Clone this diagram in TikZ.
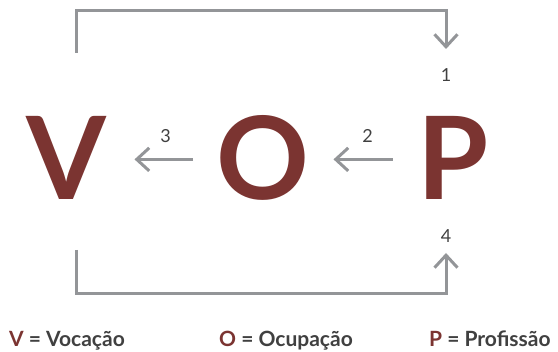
\documentclass[tikz,border=0pt]{standalone}
\usepackage{fontspec}
\setmainfont{Lato}
\usetikzlibrary{arrows.meta}
\definecolor{vred}{HTML}{7B3431}
\definecolor{lgray}{HTML}{939598}
\definecolor{dgray}{HTML}{404040}
\tikzset{
  big/.style={font=\fontsize{115}{115}\selectfont\bfseries, text=vred, inner sep=0pt, anchor=base},
  num/.style={font=\fontsize{18}{18}\selectfont, text=dgray, inner sep=0pt},
  leg/.style={font=\fontsize{21}{21}\selectfont\bfseries, text=dgray, inner sep=0pt, anchor=base west},
  conn/.style={draw=lgray, line width=3pt, -{Straight Barb[length=12.5pt,width=23pt]}}
}
\begin{document}
\begin{tikzpicture}[x=1pt,y=1pt]
\useasboundingbox (0,0) rectangle (558,352);
\node[big] (V) at (66,152) {V};
\node[big] (O) at (263,152) {O};
\node[big] (P) at (453.5,152) {P};
\node[num] (n1) at (446,277) {1};
\node[num] (n2) at (367.6,216) {2};
\node[num] (n3) at (165.5,216) {3};
\node[num] (n4) at (446,116.4) {4};
\coordinate (t0) at (76.5,299);
\coordinate (t1) at (446,303);
\coordinate (b0) at (76.5,102);
\coordinate (b1) at (446,99);
\coordinate (a2s) at (392.5,192.6);
\coordinate (a2e) at (333.5,192.6);
\coordinate (a3s) at (193,192.6);
\coordinate (a3e) at (134.5,192.6);
\draw[conn] (t0) -- (76.5,341.3) -- (446,341.3) -- (t1);
\draw[conn] (b0) -- (76.5,58.4) -- (446,58.4) -- (b1);
\draw[conn] (a2s) -- (a2e);
\draw[conn] (a3s) -- (a3e);
\node[leg] (lv) at (9,5) {\textcolor{vred}{V} = Vocação};
\node[leg] (lo) at (219,5) {\textcolor{vred}{O} = Ocupação};
\node[leg] (lp) at (429,5) {\textcolor{vred}{P} = Profissão};
\end{tikzpicture}
\end{document}
